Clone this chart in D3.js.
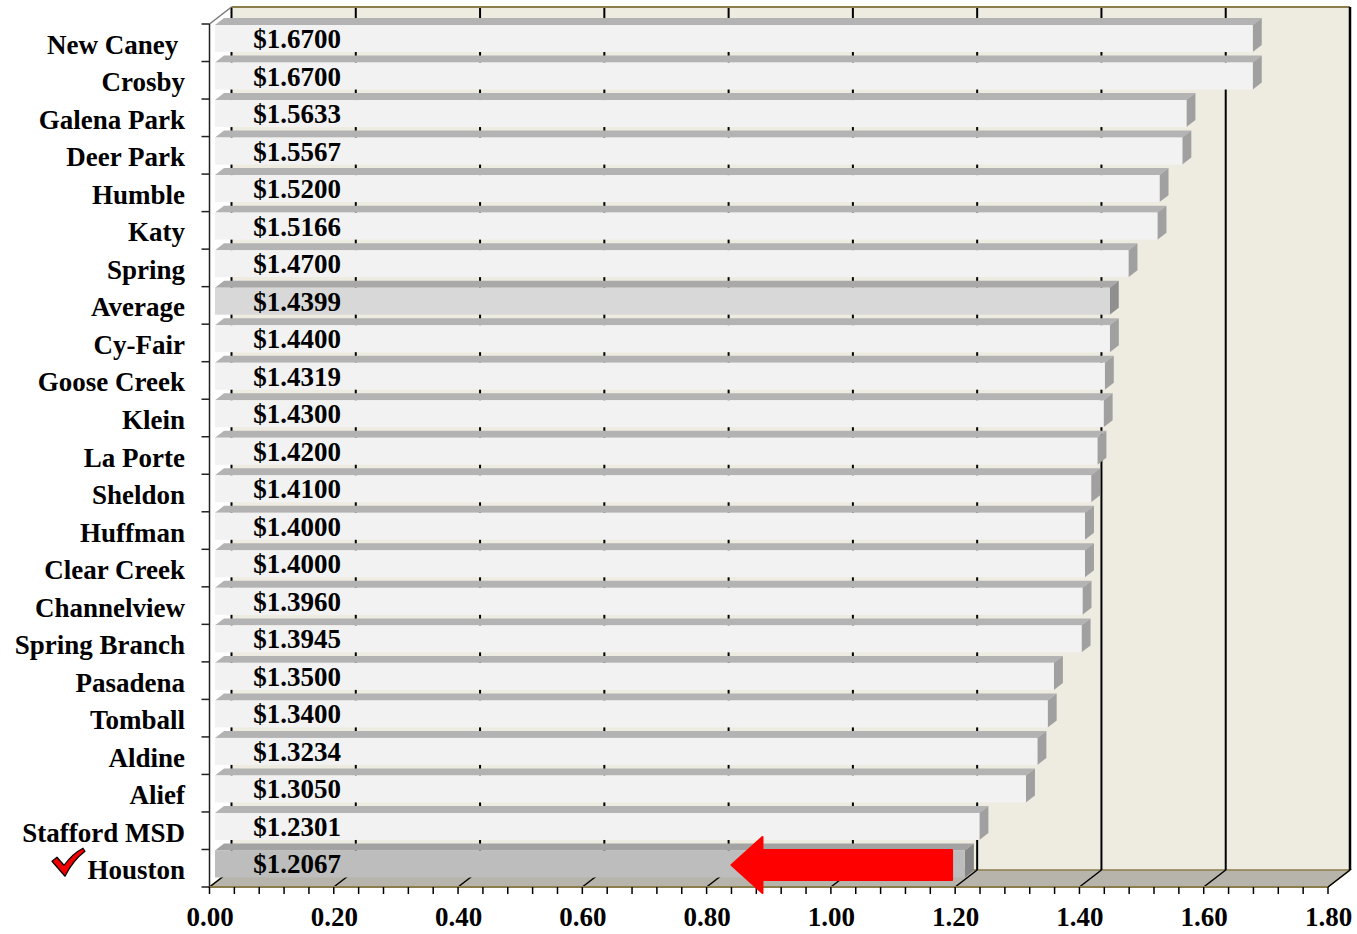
<!DOCTYPE html>
<html>
<head>
<meta charset="utf-8">
<script src="https://cdn.jsdelivr.net/npm/d3@7"></script>
<style>
  body { margin: 0; background: #fff; }
  text { font-family: "Liberation Serif", "Times New Roman", serif; font-weight: bold; }
</style>
</head>
<body>
<svg id="chart" width="1357" height="934"></svg>
<script>
// data
const districts = ["New Caney ", "Crosby", "Galena Park", "Deer Park", "Humble", "Katy", "Spring",
    "Average", "Cy-Fair", "Goose Creek", "Klein", "La Porte", "Sheldon", "Huffman", "Clear Creek",
    "Channelview", "Spring Branch", "Pasadena", "Tomball", "Aldine", "Alief", "Stafford MSD", "Houston"];
const rates = [1.6700, 1.6700, 1.5633, 1.5567, 1.5200, 1.5166, 1.4700,
    1.4399, 1.4400, 1.4319, 1.4300, 1.4200, 1.4100, 1.4000, 1.4000,
    1.3960, 1.3945, 1.3500, 1.3400, 1.3234, 1.3050, 1.2301, 1.2067];
const majorTicks = [0, 0.2, 0.4, 0.6, 0.8, 1.0, 1.2, 1.4, 1.6, 1.8];
const minorTicks = d3.range(0, 1.8001, 0.04);
const arrowSpan = [1.195, 0.84]; // tail -> tip, on the Houston row

const svg = d3.select("#chart");

const plotLeft = 209.5, plotRight = 1328, plotTop = 24, plotBottom = 887;
const DX = 22, DY = -17;          // depth of the 3d box
const f0 = 0.25, f1 = 0.66;       // front/back of the bars inside the depth
const fontSize = 27;

const x = d3.scaleLinear().domain([0, 1.8]).range([plotLeft, plotRight]);
const yBand = d3.scaleBand().domain(districts).range([plotTop, plotBottom]).paddingInner(0.28).paddingOuter(0.14);
const yCat = d3.scaleBand().domain(districts).range([plotTop, plotBottom]);

// back wall
svg.append("rect")
    .attr("x", plotLeft + DX).attr("y", plotTop + DY)
    .attr("width", plotRight - plotLeft).attr("height", plotBottom - plotTop)
    .attr("fill", "#EEEBE0");

// floor
svg.append("path")
    .attr("d", `M${plotLeft},${plotBottom}L${plotRight},${plotBottom}L${plotRight + DX},${plotBottom + DY}L${plotLeft + DX},${plotBottom + DY}Z`)
    .attr("fill", "#B7B4AB")
    .attr("stroke", "#8C7E4C").attr("stroke-width", 1.5);

// wall gridlines and floor gridlines
majorTicks.forEach(t => {
    svg.append("line")
        .attr("x1", x(t) + DX).attr("x2", x(t) + DX)
        .attr("y1", plotBottom + DY).attr("y2", plotTop + DY)
        .attr("stroke", "#000").attr("stroke-width", 2);
    svg.append("line")
        .attr("x1", x(t)).attr("y1", plotBottom)
        .attr("x2", x(t) + DX).attr("y2", plotBottom + DY)
        .attr("stroke", "#000").attr("stroke-width", 1.5);
});

// wall top edge and side edges
svg.append("path")
    .attr("d", `M${plotLeft + DX},${plotTop + DY}L${plotRight + DX},${plotTop + DY}`)
    .attr("fill", "none").attr("stroke", "#8C7E4C").attr("stroke-width", 2);
svg.append("line")
    .attr("x1", plotRight + DX).attr("x2", plotRight + DX)
    .attr("y1", plotTop + DY).attr("y2", plotBottom + DY)
    .attr("stroke", "#000").attr("stroke-width", 2.5);
svg.append("line")
    .attr("x1", plotLeft).attr("y1", plotTop).attr("x2", plotLeft + DX).attr("y2", plotTop + DY)
    .attr("stroke", "#777").attr("stroke-width", 1.5);

// bar colours
function barColors(name) {
    if (name === "Houston") return { front: "#BDBDBD", top: "#A3A3A3", side: "#858585" };
    if (name === "Average") return { front: "#D8D8D8", top: "#A9A9A9", side: "#8F8F8F" };
    return { front: "#F2F2F2", top: "#B3B3B3", side: "#A0A0A0" };
}

const h = yBand.bandwidth();
const ox = DX * f0, oy = DY * f0, bx = DX * f1, by = DY * f1;

districts.forEach((name, i) => {
    const x0 = x(0), x1 = x(rates[i]), y0 = yBand(name);
    const c = barColors(name);
    const g = svg.append("g");
    g.append("path")
        .attr("d", `M${x0 + ox},${y0 + oy}L${x1 + ox},${y0 + oy}L${x1 + bx},${y0 + by}L${x0 + bx},${y0 + by}Z`)
        .attr("fill", c.top);
    g.append("path")
        .attr("d", `M${x1 + ox},${y0 + oy}L${x1 + bx},${y0 + by}L${x1 + bx},${y0 + h + by}L${x1 + ox},${y0 + h + oy}Z`)
        .attr("fill", c.side);
    g.append("rect")
        .attr("x", x0 + ox).attr("y", y0 + oy)
        .attr("width", x1 - x0).attr("height", h)
        .attr("fill", c.front);
});

// value labels
svg.append("g").selectAll("text")
    .data(districts)
    .join("text")
    .attr("x", 297)
    .attr("y", (d) => yBand(d) + oy + h / 2 + 0.5)
    .attr("text-anchor", "middle")
    .attr("dominant-baseline", "central")
    .attr("font-size", fontSize)
    .text((d, i) => "$" + rates[i].toFixed(4));

// left axis
svg.append("line")
    .attr("x1", plotLeft).attr("x2", plotLeft).attr("y1", plotTop).attr("y2", plotBottom)
    .attr("stroke", "#222").attr("stroke-width", 1.5);
districts.concat([null]).forEach((d) => {
    const yy = d ? yCat(d) : plotBottom;
    svg.append("line")
        .attr("x1", plotLeft - 8).attr("x2", plotLeft).attr("y1", yy).attr("y2", yy)
        .attr("stroke", "#222").attr("stroke-width", 1.5);
});
svg.append("g").selectAll("text")
    .data(districts)
    .join("text")
    .attr("x", 185)
    .attr("y", (d) => yCat(d) + yCat.bandwidth() / 2 + 2)
    .attr("text-anchor", "end")
    .attr("dominant-baseline", "central")
    .attr("font-size", fontSize)
    .style("white-space", "pre")
    .text((d) => d);

// bottom axis
svg.append("line")
    .attr("x1", plotLeft).attr("x2", plotRight).attr("y1", plotBottom).attr("y2", plotBottom)
    .attr("stroke", "#8C7E4C").attr("stroke-width", 2);
minorTicks.forEach(t => {
    svg.append("line")
        .attr("x1", x(t)).attr("x2", x(t)).attr("y1", plotBottom).attr("y2", plotBottom + 7)
        .attr("stroke", "#000").attr("stroke-width", 1.5);
});
const xAxis = d3.axisBottom(x).tickValues(majorTicks).tickFormat(d3.format(".2f")).tickSize(0).tickPadding(20);
const gx = svg.append("g").attr("transform", `translate(0,${plotBottom})`).call(xAxis);
gx.select(".domain").remove();
gx.selectAll("text")
    .attr("font-size", fontSize)
    .attr("font-family", "Liberation Serif, Times New Roman, serif")
    .attr("fill", "#000");

// red arrow on Houston
const hy = yBand("Houston") + oy + h / 2 + 1;
const ax0 = x(arrowSpan[0]), ax1 = x(arrowSpan[1]);
const headLen = 31, shaftHalf = 15, headHalf = 28;
svg.append("path")
    .attr("d", `M${ax1},${hy}L${ax1 + headLen},${hy - headHalf}L${ax1 + headLen},${hy - shaftHalf}` +
        `L${ax0},${hy - shaftHalf}L${ax0},${hy + shaftHalf}L${ax1 + headLen},${hy + shaftHalf}` +
        `L${ax1 + headLen},${hy + headHalf}Z`)
    .attr("fill", "#FF0000")
    .attr("stroke", "#FF0000").attr("stroke-width", 2).attr("stroke-linejoin", "round");

// check mark next to Houston
const cy = yCat("Houston") + yCat.bandwidth() / 2;
svg.append("path")
    .attr("transform", `translate(52,${cy - 20})`)
    .attr("d", "M0,13L5,9L12,17C18,9 25,3 31,0L33,3C25,9 18,18 13,28Z")
    .attr("fill", "#F00000")
    .attr("stroke", "#000").attr("stroke-width", 1.2).attr("stroke-linejoin", "round");
</script>
</body>
</html>
